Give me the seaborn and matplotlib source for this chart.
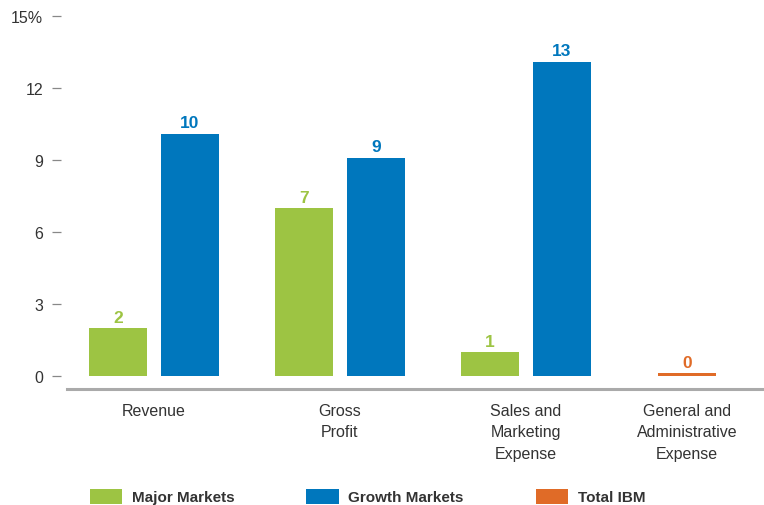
import matplotlib
matplotlib.use("Agg")
import matplotlib.pyplot as plt
from matplotlib.patches import Patch
import seaborn as sns
import pandas as pd

# ---- data ----
categories = ["Revenue", "Gross\nProfit", "Sales and\nMarketing\nExpense",
              "General and\nAdministrative\nExpense"]
series = ["Major Markets", "Growth Markets", "Total IBM"]
major_markets = [2.0, 7.0, 1.0, None]
growth_markets = [10.1, 9.1, 13.1, None]
total_ibm = [None, None, None, 0.12]
y_ticks = [0, 3, 6, 9, 12, 15]
y_tick_labels = ["0", "3", "6", "9", "12", "15%"]

colors = {"Major Markets": "#9DC443", "Growth Markets": "#0077BD", "Total IBM": "#E06B27"}

# ---- layout (group centres and in-group offsets, in bar-step units) ----
group_centers = [0.0, 186 / 72, 372 / 72, 533 / 72]
offsets = {"Major Markets": -0.5, "Growth Markets": 0.5, "Total IBM": 0.0}

rows = []
for s, vals in zip(series, [major_markets, growth_markets, total_ibm]):
    for c, gc, v in zip(categories, group_centers, vals):
        if v is not None:
            rows.append({"category": c, "series": s, "value": v, "pos": gc + offsets[s]})
df = pd.DataFrame(rows)

sns.set_theme(style="white")
plt.rcParams["font.family"] = ["Liberation Sans", "DejaVu Sans"]

fig = plt.figure(figsize=(7.64, 5.06), dpi=100)
W, H = 764, 506
ax = fig.add_axes([67 / W, 1 - 390 / H, (764 - 67) / W, 380 / H])

sns.barplot(data=df, x="pos", y="value", hue="series", hue_order=series,
            palette=colors, native_scale=True, width=58 / 72, errorbar=None,
            legend=False, ax=ax, saturation=1, linewidth=0, edgecolor="none")

for cont, s in zip(ax.containers, series):
    vals = [b.get_height() for b in cont]
    ax.bar_label(cont, labels=[f"{round(v)}" for v in vals], padding=2.5,
                 color=colors[s], fontsize=12.5, fontweight="bold")

ax.set_xlim((67 - 154) / 72, (764 - 154) / 72)
ax.set_ylim(-13 / 24, 15 + 7 / 24)
ax.set_yticks(y_ticks)
ax.set_yticklabels(y_tick_labels)
ax.set_xticks(group_centers)
ax.set_xticklabels(categories, linespacing=1.55)
ax.set_xlabel("")
ax.set_ylabel("")

for side in ["top", "right", "left"]:
    ax.spines[side].set_visible(False)
ax.spines["left"].set_position(("outward", 4.3))
ax.spines["bottom"].set_color("#AAAAAA")
ax.spines["bottom"].set_linewidth(2.2)

ax.tick_params(axis="y", left=True, length=6.5, width=0.9, color="#888888",
               pad=6.5, labelsize=11.5, labelcolor="#333333")
ax.tick_params(axis="x", bottom=False, length=0, pad=10, labelsize=11.5,
               labelcolor="#333333")
ax.grid(False)

handles = [Patch(facecolor=colors[s], edgecolor="none", label=s) for s in series]
leg = fig.legend(handles=handles, loc="center left", bbox_to_anchor=(90 / W, 1 - 497.5 / H),
                 ncol=3, frameon=False, borderpad=0, borderaxespad=0,
                 handlelength=2.1, handleheight=1.2, handletextpad=0.65,
                 columnspacing=4.7, prop={"size": 11, "weight": "bold"})
for t in leg.get_texts():
    t.set_color("#333333")

fig.savefig("out.png", dpi=100)
